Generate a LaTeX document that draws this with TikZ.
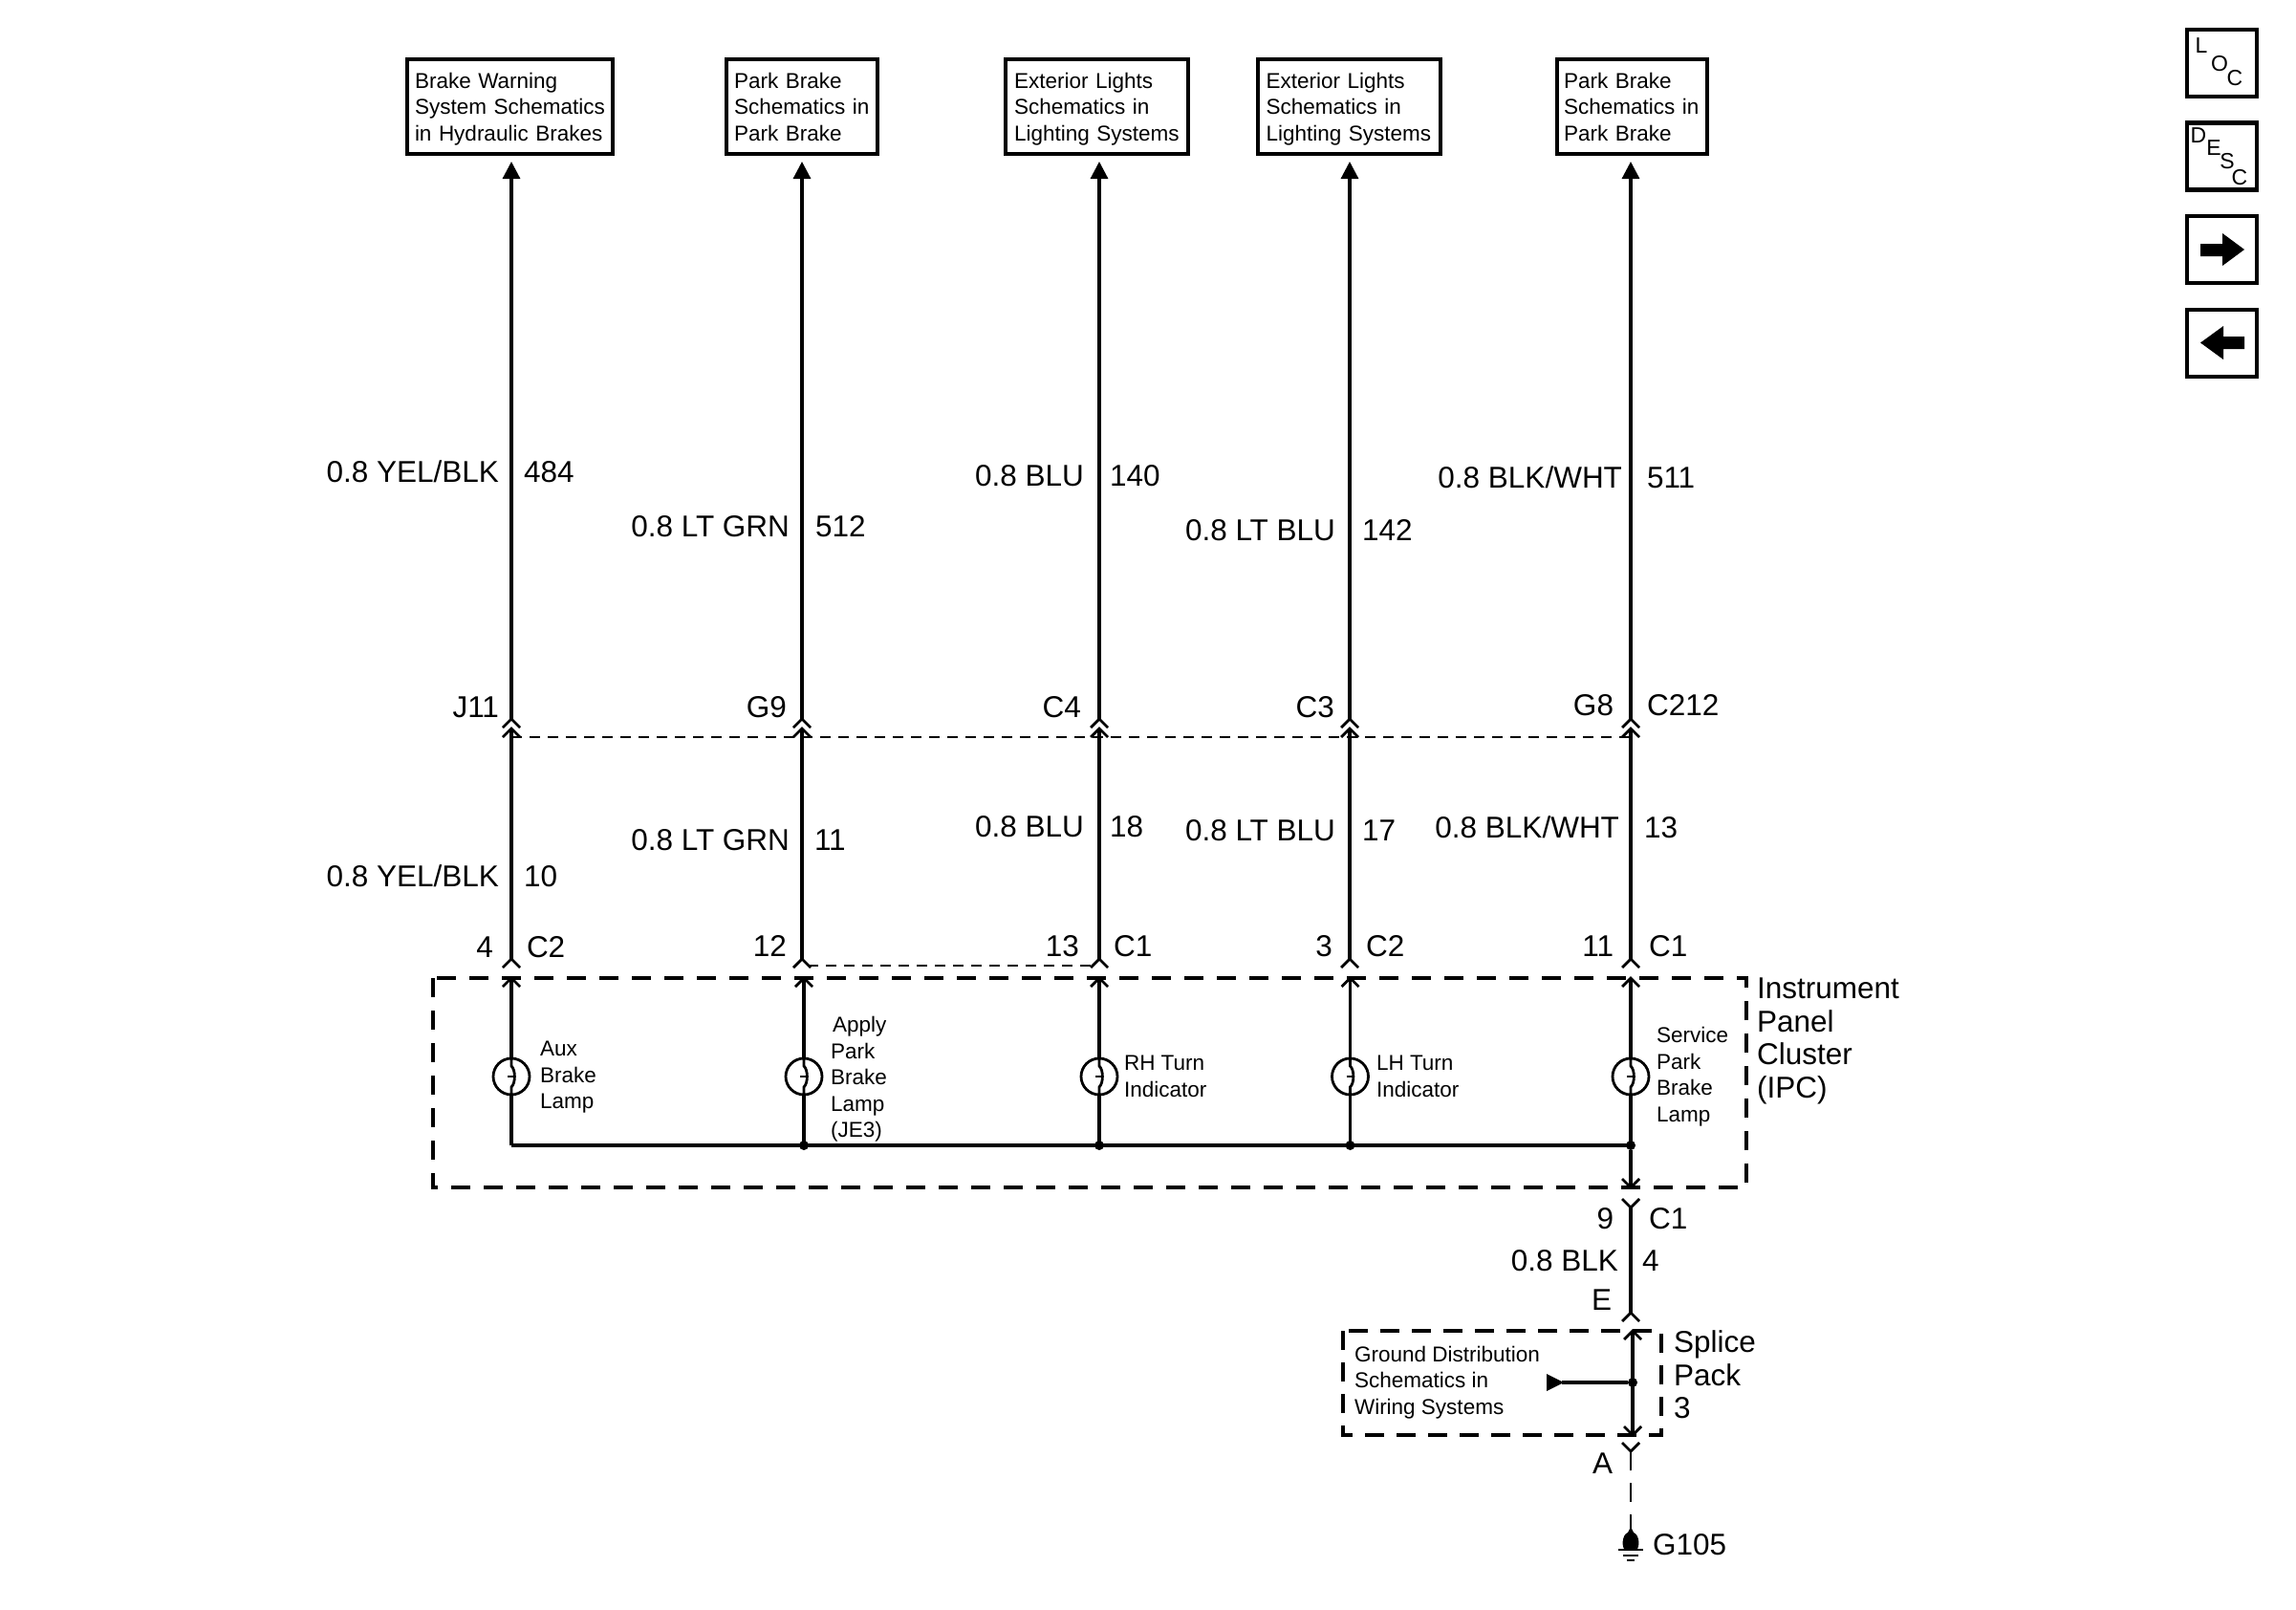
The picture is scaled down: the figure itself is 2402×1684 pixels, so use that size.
\documentclass[tikz,border=0pt]{standalone}
\usepackage{fontspec}
\usetikzlibrary{arrows.meta}
\setmainfont{Liberation Sans}
\newcommand{\firstln}{\rule{0pt}{21pt}}
\newcommand{\lastln}{\vphantom{g}}
\begin{document}
\begin{tikzpicture}[x=1pt,y=-1pt,
  lbl/.style={font=\fontsize{31.5}{34.5}\selectfont,inner sep=0pt,outer sep=0pt},
  lw/.style={lbl,anchor=base west},
  le/.style={lbl,anchor=base east},
  sm/.style={font=\fontsize{22.5}{27.5}\selectfont,inner sep=0pt,outer sep=0pt,align=left},
  smw/.style={sm,anchor=west},
  refbox/.style={draw,line width=4pt,font=\fontsize{22.5}{27.5}\selectfont,align=left,inner ysep=0pt,minimum height=99pt,anchor=north west},
  iconbox/.style={draw,line width=4.5pt,minimum width=73pt,minimum height=70pt,inner sep=0pt},
  icotxt/.style={font=\fontsize{23}{23}\selectfont,inner sep=0pt},
  wire/.style={line width=3.2pt},
  bulb/.style={draw,line width=2.8pt,circle,minimum size=38pt,inner sep=0pt,fill=white},
  dot/.style={fill,circle,minimum size=10pt,inner sep=0pt},
  frame/.style={line width=4.6pt,dash pattern=on 20pt off 14pt},
  shield/.style={line width=2.2pt,dash pattern=on 10.5pt off 8.5pt},
  chevup/.pic={\draw[line width=2.8pt] (-9,9)--(0,0)--(9,9);},
  chevdn/.pic={\draw[line width=2.8pt] (-9,-9)--(0,0)--(9,-9);},
  filament/.pic={\draw[line width=2.8pt] (0,-20) -- (0,-11) .. controls (4.5,-7) and (4.5,7) .. (0,11) -- (0,20);
                 \draw[line width=2.8pt] (-4,0) -- (3,0);},
  >={Triangle[length=18pt,width=18pt]},
]
\useasboundingbox (0,0) rectangle (2402,1684);
% reference boxes
\node[refbox,text width=199pt,inner xsep=8pt] (b1) at (424,60) {\firstln Brake Warning\\System Schematics\\in Hydraulic Brakes\lastln};
\node[refbox,text width=142pt,inner xsep=8pt] (b2) at (758,60) {\firstln Park Brake\\Schematics in\\Park Brake\lastln};
\node[refbox,text width=173pt,inner xsep=9pt] (b3) at (1050,60) {\firstln Exterior Lights\\Schematics in\\Lighting Systems\lastln};
\node[refbox,text width=173pt,inner xsep=9pt] (b4) at (1313.5,60) {\firstln Exterior Lights\\Schematics in\\Lighting Systems\lastln};
\node[refbox,text width=143pt,inner xsep=7pt] (b5) at (1627,60) {\firstln Park Brake\\Schematics in\\Park Brake\lastln};
% side icons
\node[iconbox] (iloc) at (2324.5,66) {};
\node[icotxt] (l1) at (2303,48) {L}; \node[icotxt] (l2) at (2322,67) {O}; \node[icotxt] (l3) at (2338,82) {C};
\node[iconbox] (ides) at (2324.5,163.5) {};
\node[icotxt] (d1) at (2300,142) {D}; \node[icotxt] (d2) at (2316,155) {E}; \node[icotxt] (d3) at (2330,169) {S}; \node[icotxt] (d4) at (2343,186) {C};
\node[iconbox] (ifw) at (2324.5,261) {};
\fill (2302,255) -- (2325,255) -- (2325,244) -- (2348,261) -- (2325,278) -- (2325,268) -- (2302,268) -- cycle;
\node[iconbox] (ibk) at (2324.5,359) {};
\fill (2348,352) -- (2326,352) -- (2326,341) -- (2302,358.5) -- (2326,376) -- (2326,365) -- (2348,365) -- cycle;
% wires from the reference boxes down to the cluster
\foreach \i/\xu/\xl in {1/535/535,2/839/841,3/1150/1150,4/1412/1412.5,5/1706/1706}{
  \coordinate (t\i) at (\xu,169);
  \coordinate (a\i) at (\xu,752);
  \coordinate (c\i) at (\xu,762);
  \coordinate (d\i) at (\xu,1003);
  \coordinate (e\i) at (\xl,1023);
  \coordinate (g\i) at (\xl,1198);
  \coordinate (l\i) at (\xl,1126);
  \draw[wire,->] (a\i) -- (t\i);
  \pic at (a\i) {chevup};
  \pic at (c\i) {chevup};
  \draw[wire] (c\i) -- (d\i);
  \pic at (d\i) {chevup};
  \pic at (e\i) {chevup};
}
% shields between the cavities
\draw[shield] (535,771) -- (1706,771);
\draw[shield] (845,1010) -- (1144,1010);
% IPC
\draw[frame] (453,1023) rectangle (1827,1242);
\foreach \i in {1,...,5}{
  \draw[wire] (e\i) -- (g\i);
  \node[bulb] (lamp\i) at (l\i) {};
  \pic at (l\i) {filament};
}
\draw[wire] (g1) -- (g5);
\node[dot] (j2) at (g2) {}; \node[dot] (j3) at (g3) {}; \node[dot] (j4) at (g4) {}; \node[dot] (j5) at (g5) {};
% down to splice pack
\coordinate (h1) at (1706,1242);
\coordinate (h2) at (1706,1263);
\coordinate (h3) at (1706,1373);
\draw[wire] (j5) -- (h1); \pic at (h1) {chevdn};
\draw[wire] (h2) -- (h3); \pic at (h2) {chevdn}; \pic at (h3) {chevup};
% splice pack
\draw[frame,dash pattern=on 20pt off 13pt] (1405,1392) rectangle (1738,1501);
\coordinate (s1) at (1708,1392); \coordinate (s2) at (1708,1501); \node[dot] (s3) at (1708,1446) {};
\draw[line width=3.5pt] (s1) -- (s2); \pic at (s1) {chevup}; \pic at (s2) {chevdn};
\coordinate (s4) at (1618,1446);
\fill (s4) ++(0,-9) -- ++(18,9) -- ++(-18,9) -- cycle;
\draw[wire] (1634,1446) -- (s3);
% ground
\coordinate (u1) at (1706,1518); \coordinate (u2) at (1706,1599);
\pic at (u1) {chevdn};
\draw[line width=2.6pt,dash pattern=on 20pt off 13pt] (u1) -- (u2);
\fill (1706,1597) -- (1709,1603) .. controls (1715,1605) and (1716,1618) .. (1712,1621) -- (1700,1621) .. controls (1696,1618) and (1697,1605) .. (1703,1603) -- cycle;
\draw[line width=2pt] (1693,1621) -- (1719,1621);
\draw[line width=2pt] (1698,1627) -- (1714,1627);
\draw[line width=2pt] (1702,1632) -- (1710,1632);
% wire labels, upper
\node[le] (n1) at (522,504) {0.8 YEL/BLK}; \node[lw] (n2) at (548,504) {484};
\node[le] (n3) at (826,561) {0.8 LT GRN}; \node[lw] (n4) at (853,561) {512};
\node[le] (n5) at (1134,508) {0.8 BLU}; \node[lw] (n6) at (1161,508) {140};
\node[le] (n7) at (1397,565) {0.8 LT BLU}; \node[lw] (n8) at (1425,565) {142};
\node[le] (n9) at (1697,510) {0.8 BLK/WHT}; \node[lw] (n10) at (1723,510) {511};
% C212
\node[le] (p1) at (522,750) {J11}; \node[le] (p2) at (823,750) {G9}; \node[le] (p3) at (1131,750) {C4};
\node[le] (p4) at (1396,750) {C3}; \node[le] (p5) at (1688,748) {G8}; \node[lw] (p6) at (1723,748) {C212};
% wire labels, lower
\node[le] (m1) at (522,927) {0.8 YEL/BLK}; \node[lw] (m2) at (548,927) {10};
\node[le] (m3) at (826,889) {0.8 LT GRN}; \node[lw] (m4) at (852,889) {11};
\node[le] (m5) at (1134,875) {0.8 BLU}; \node[lw] (m6) at (1161,875) {18};
\node[le] (m7) at (1397,879) {0.8 LT BLU}; \node[lw] (m8) at (1425,879) {17};
\node[le] (m9) at (1694,876) {0.8 BLK/WHT}; \node[lw] (m10) at (1720,876) {13};
% cavities at the cluster
\node[le] (q1) at (516,1001) {4}; \node[lw] (q2) at (551,1001) {C2};
\node[le] (q3) at (823,1000) {12};
\node[le] (q4) at (1129,1000) {13}; \node[lw] (q5) at (1165,1000) {C1};
\node[le] (q6) at (1394,1000) {3}; \node[lw] (q7) at (1429,1000) {C2};
\node[le] (q8) at (1688,1000) {11}; \node[lw] (q9) at (1725,1000) {C1};
% lamp labels
\node[smw] (r1) at (565,1127) {Aux\\Brake\\Lamp};
\node[smw] (r2) at (869,1129) {\hspace*{2pt}Apply\\Park\\Brake\\Lamp\\(JE3)};
\node[smw] (r3) at (1176,1126) {RH Turn\\Indicator};
\node[smw] (r4) at (1440,1126) {LH Turn\\Indicator};
\node[smw] (r5) at (1733,1126) {Service\\Park\\Brake\\Lamp};
% cluster name
\node[lbl,anchor=west,align=left] (ipc) at (1838,1089) {Instrument\\Panel\\Cluster\\(IPC)};
% lower labels
\node[le] (v1) at (1688,1285) {9}; \node[lw] (v2) at (1725,1285) {C1};
\node[le] (v3) at (1693,1329) {0.8 BLK}; \node[lw] (v4) at (1718,1329) {4};
\node[le] (v5) at (1686,1370) {E};
\node[lbl,anchor=west,align=left] (v6) at (1751,1438) {Splice\\Pack\\3};
\node[smw] (v7) at (1417,1446) {Ground Distribution\\Schematics in\\Wiring Systems};
\node[le] (v8) at (1687,1541) {A};
\node[lw] (v9) at (1729,1626) {G105};
\end{tikzpicture}
\end{document}
